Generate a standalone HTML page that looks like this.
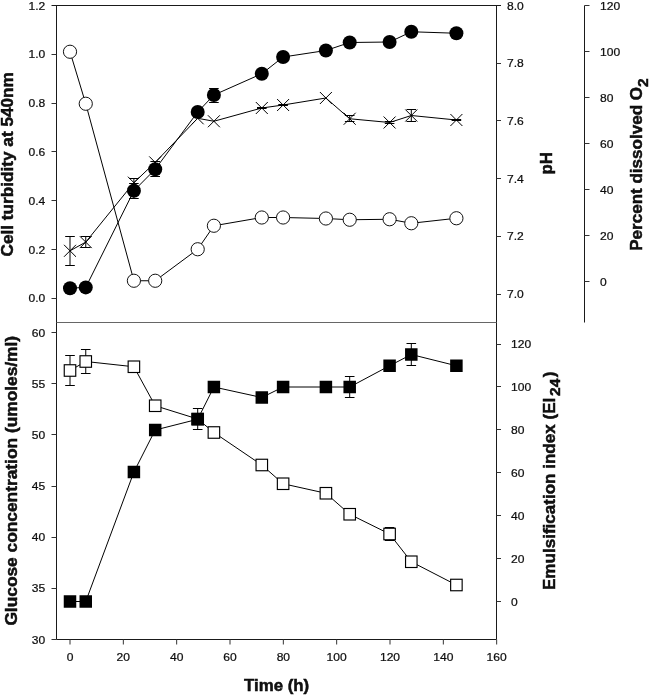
<!DOCTYPE html>
<html><head><meta charset="utf-8"><title>Figure</title>
<style>html,body{margin:0;padding:0;background:#fff}svg{display:block}text{font-family:"Liberation Sans",Arial,sans-serif;fill:#111}.t{font-size:11.6px;fill:#000;stroke:#000;stroke-width:.22px}.b{font-size:16.4px;font-weight:bold;fill:#000;stroke:#000;stroke-width:.45px}</style></head><body>
<svg width="649" height="696" viewBox="0 0 649 696">
<rect width="649" height="696" fill="#fff"/>
<g stroke="#1a1a1a" stroke-width="1" fill="none">
<path d="M51.5 5.5H501.0"/>
<path d="M56.5 5.5V639.5H496.5V5.5"/>
<path d="M584.5 5.5V322.5"/>
</g>
<path d="M56.5 322.5H496.5" stroke="#666" stroke-width="1"/>
<path d="M51.5 54.5H56.5M51.5 103.5H56.5M51.5 151.5H56.5M51.5 200.5H56.5M51.5 249.5H56.5M51.5 298.5H56.5M51.5 332.5H56.5M51.5 383.5H56.5M51.5 434.5H56.5M51.5 486.5H56.5M51.5 537.5H56.5M51.5 588.5H56.5M51.5 639.5H56.5M496.5 63.5h4.5M496.5 120.5h4.5M496.5 178.5h4.5M496.5 236.5h4.5M496.5 294.5h4.5M496.5 344.5h4.5M496.5 386.5h4.5M496.5 429.5h4.5M496.5 472.5h4.5M496.5 515.5h4.5M496.5 558.5h4.5M496.5 601.5h4.5M584.5 5.5h5M584.5 51.5h5M584.5 97.5h5M584.5 143.5h5M584.5 189.5h5M584.5 235.5h5M584.5 281.5h5M70.00 639.5v5M123.33 639.5v5M176.67 639.5v5M230.00 639.5v5M283.34 639.5v5M336.67 639.5v5M390.00 639.5v5M443.34 639.5v5M496.67 639.5v5" stroke="#333" stroke-width="1" fill="none"/>
<g class="t">
<text transform="translate(45.3 9.60) scale(1.04 1)" text-anchor="end">1.2</text>
<text transform="translate(45.3 58.40) scale(1.04 1)" text-anchor="end">1.0</text>
<text transform="translate(45.3 107.20) scale(1.04 1)" text-anchor="end">0.8</text>
<text transform="translate(45.3 156.00) scale(1.04 1)" text-anchor="end">0.6</text>
<text transform="translate(45.3 204.80) scale(1.04 1)" text-anchor="end">0.4</text>
<text transform="translate(45.3 253.60) scale(1.04 1)" text-anchor="end">0.2</text>
<text transform="translate(45.3 302.40) scale(1.04 1)" text-anchor="end">0.0</text>
<text transform="translate(45.3 336.80) scale(1.04 1)" text-anchor="end">60</text>
<text transform="translate(45.3 387.93) scale(1.04 1)" text-anchor="end">55</text>
<text transform="translate(45.3 439.06) scale(1.04 1)" text-anchor="end">50</text>
<text transform="translate(45.3 490.19) scale(1.04 1)" text-anchor="end">45</text>
<text transform="translate(45.3 541.32) scale(1.04 1)" text-anchor="end">40</text>
<text transform="translate(45.3 592.45) scale(1.04 1)" text-anchor="end">35</text>
<text transform="translate(45.3 643.58) scale(1.04 1)" text-anchor="end">30</text>
<text transform="translate(507 9.60) scale(1.04 1)">8.0</text>
<text transform="translate(507 67.30) scale(1.04 1)">7.8</text>
<text transform="translate(507 125.00) scale(1.04 1)">7.6</text>
<text transform="translate(507 182.70) scale(1.04 1)">7.4</text>
<text transform="translate(507 240.40) scale(1.04 1)">7.2</text>
<text transform="translate(507 298.10) scale(1.04 1)">7.0</text>
<text transform="translate(511 348.10) scale(1.04 1)">120</text>
<text transform="translate(511 391.00) scale(1.04 1)">100</text>
<text transform="translate(511 433.90) scale(1.04 1)">80</text>
<text transform="translate(511 476.80) scale(1.04 1)">60</text>
<text transform="translate(511 519.70) scale(1.04 1)">40</text>
<text transform="translate(511 562.60) scale(1.04 1)">20</text>
<text transform="translate(511 605.50) scale(1.04 1)">0</text>
<text transform="translate(600 9.60) scale(1.04 1)">120</text>
<text transform="translate(600 55.60) scale(1.04 1)">100</text>
<text transform="translate(600 101.60) scale(1.04 1)">80</text>
<text transform="translate(600 147.60) scale(1.04 1)">60</text>
<text transform="translate(600 193.60) scale(1.04 1)">40</text>
<text transform="translate(600 239.60) scale(1.04 1)">20</text>
<text transform="translate(600 285.60) scale(1.04 1)">0</text>
<text transform="translate(70.00 661.3) scale(1.04 1)" text-anchor="middle">0</text>
<text transform="translate(123.33 661.3) scale(1.04 1)" text-anchor="middle">20</text>
<text transform="translate(176.67 661.3) scale(1.04 1)" text-anchor="middle">40</text>
<text transform="translate(230.00 661.3) scale(1.04 1)" text-anchor="middle">60</text>
<text transform="translate(283.34 661.3) scale(1.04 1)" text-anchor="middle">80</text>
<text transform="translate(336.67 661.3) scale(1.04 1)" text-anchor="middle">100</text>
<text transform="translate(390.00 661.3) scale(1.04 1)" text-anchor="middle">120</text>
<text transform="translate(443.34 661.3) scale(1.04 1)" text-anchor="middle">140</text>
<text transform="translate(496.67 661.3) scale(1.04 1)" text-anchor="middle">160</text>
</g>
<g class="b">
<text transform="translate(12.7 256.5) rotate(-90) scale(1.049 1)">Cell turbidity at 540nm</text>
<text transform="translate(16.9 625.6) rotate(-90) scale(1.057 1)">Glucose concentration (umoles/ml)</text>
<text transform="translate(552.4 174.5) rotate(-90) scale(1.03 1)">pH</text>
<text transform="translate(641.7 250.8) rotate(-90) scale(1.04 1)">Percent dissolved O<tspan dy="5.8" font-size="15">2</tspan></text>
<text transform="translate(554.6 590) rotate(-90) scale(1.04 1)">Emulsification index (EI<tspan dx="1.8" dy="5.8" font-size="15">24</tspan><tspan dx="1.2" dy="-5.8">)</tspan></text>
<text transform="translate(276.6 690.8) scale(1.028 1)" text-anchor="middle">Time (h)</text>
</g>
<polyline points="70.00,51.75 85.75,103.75 133.90,280.75 155.20,280.75 197.70,249.25 213.90,225.75 261.80,217.50 283.10,217.50 325.90,218.50 349.70,219.75 389.60,219.25 411.30,223.25 456.40,218.25" stroke="#000" stroke-width="1" fill="none"/>
<polyline points="70.00,250.80 85.75,242.10 133.90,182.70 155.20,162.40 197.70,118.30 213.90,121.25 261.80,108.00 283.10,105.00 325.90,98.00 349.70,118.75 389.60,122.50 411.30,115.50 456.40,120.00" stroke="#000" stroke-width="1" fill="none"/>
<polyline points="70.00,288.20 85.75,287.40 133.90,190.75 155.20,169.25 197.70,112.00 213.90,95.00 261.80,73.75 283.10,57.00 325.90,50.50 349.70,42.50 389.60,42.00 411.30,31.75 456.40,33.25" stroke="#000" stroke-width="1" fill="none"/>
<path d="M70.00 236.5V265.5M65.20 236.5h9.6M65.20 265.5h9.6M85.75 236.5V247.5M80.95 236.5h9.6M80.95 247.5h9.6M133.90 178.5V187.5M129.10 178.5h9.6M129.10 187.5h9.6M411.30 109.5V121.5M406.50 109.5h9.6M406.50 121.5h9.6M349.70 115.5V121.5M344.90 115.5h9.6M344.90 121.5h9.6M389.60 121.5V123.5M384.80 121.5h9.6M384.80 123.5h9.6M456.40 119.5V120.5M451.60 119.5h9.6M451.60 120.5h9.6M261.80 107.5V108.5M257.00 107.5h9.6M257.00 108.5h9.6M283.10 104.5V105.5M278.30 104.5h9.6M278.30 105.5h9.6M213.90 88.5V102.5M209.10 88.5h9.6M209.10 102.5h9.6M133.90 183.5V198.5M129.10 183.5h9.6M129.10 198.5h9.6M155.20 161.5V176.5M150.40 161.5h9.6M150.40 176.5h9.6" stroke="#000" stroke-width="1" fill="none"/>
<circle cx="70.00" cy="51.75" r="6.6" fill="#fff" stroke="#111" stroke-width="1"/>
<circle cx="85.75" cy="103.75" r="6.6" fill="#fff" stroke="#111" stroke-width="1"/>
<circle cx="133.90" cy="280.75" r="6.6" fill="#fff" stroke="#111" stroke-width="1"/>
<circle cx="155.20" cy="280.75" r="6.6" fill="#fff" stroke="#111" stroke-width="1"/>
<circle cx="197.70" cy="249.25" r="6.6" fill="#fff" stroke="#111" stroke-width="1"/>
<circle cx="213.90" cy="225.75" r="6.6" fill="#fff" stroke="#111" stroke-width="1"/>
<circle cx="261.80" cy="217.50" r="6.6" fill="#fff" stroke="#111" stroke-width="1"/>
<circle cx="283.10" cy="217.50" r="6.6" fill="#fff" stroke="#111" stroke-width="1"/>
<circle cx="325.90" cy="218.50" r="6.6" fill="#fff" stroke="#111" stroke-width="1"/>
<circle cx="349.70" cy="219.75" r="6.6" fill="#fff" stroke="#111" stroke-width="1"/>
<circle cx="389.60" cy="219.25" r="6.6" fill="#fff" stroke="#111" stroke-width="1"/>
<circle cx="411.30" cy="223.25" r="6.6" fill="#fff" stroke="#111" stroke-width="1"/>
<circle cx="456.40" cy="218.25" r="6.6" fill="#fff" stroke="#111" stroke-width="1"/>
<path d="M64.00 244.80l12 12M64.00 256.80l12 -12M79.75 236.10l12 12M79.75 248.10l12 -12M127.90 176.70l12 12M127.90 188.70l12 -12M149.20 156.40l12 12M149.20 168.40l12 -12M191.70 112.30l12 12M191.70 124.30l12 -12M207.90 115.25l12 12M207.90 127.25l12 -12M255.80 102.00l12 12M255.80 114.00l12 -12M277.10 99.00l12 12M277.10 111.00l12 -12M319.90 92.00l12 12M319.90 104.00l12 -12M343.70 112.75l12 12M343.70 124.75l12 -12M383.60 116.50l12 12M383.60 128.50l12 -12M405.30 109.50l12 12M405.30 121.50l12 -12M450.40 114.00l12 12M450.40 126.00l12 -12" stroke="#000" stroke-width="1" fill="none"/>
<circle cx="70.00" cy="288.20" r="7" fill="#000"/>
<circle cx="85.75" cy="287.40" r="7" fill="#000"/>
<circle cx="133.90" cy="190.75" r="7" fill="#000"/>
<circle cx="155.20" cy="169.25" r="7" fill="#000"/>
<circle cx="197.70" cy="112.00" r="7" fill="#000"/>
<circle cx="213.90" cy="95.00" r="7" fill="#000"/>
<circle cx="261.80" cy="73.75" r="7" fill="#000"/>
<circle cx="283.10" cy="57.00" r="7" fill="#000"/>
<circle cx="325.90" cy="50.50" r="7" fill="#000"/>
<circle cx="349.70" cy="42.50" r="7" fill="#000"/>
<circle cx="389.60" cy="42.00" r="7" fill="#000"/>
<circle cx="411.30" cy="31.75" r="7" fill="#000"/>
<circle cx="456.40" cy="33.25" r="7" fill="#000"/>
<polyline points="70.00,370.50 85.75,361.50 133.90,366.75 155.20,405.75 197.70,419.00 213.90,432.50 261.80,465.00 283.10,483.75 325.90,493.25 349.70,514.25 389.60,534.00 411.30,561.75 456.40,585.00" stroke="#000" stroke-width="1" fill="none"/>
<polyline points="70.00,601.50 85.75,601.50 133.90,472.00 155.20,430.00 197.70,419.25 213.90,387.00 261.80,397.50 283.10,387.00 325.90,387.00 349.70,387.00 389.60,365.75 411.30,354.50 456.40,365.75" stroke="#000" stroke-width="1" fill="none"/>
<path d="M70.00 355.5V385.5M65.20 355.5h9.6M65.20 385.5h9.6M85.75 349.5V373.5M80.95 349.5h9.6M80.95 373.5h9.6M197.70 408.5V429.5M192.90 408.5h9.6M192.90 429.5h9.6M349.70 376.5V397.5M344.90 376.5h9.6M344.90 397.5h9.6M411.30 343.5V365.5M406.50 343.5h9.6M406.50 365.5h9.6M389.60 527.5V540.5M384.80 527.5h9.6M384.80 540.5h9.6" stroke="#000" stroke-width="1" fill="none"/>
<rect x="64.25" y="364.75" width="11.5" height="11.5" fill="#fff" stroke="#000" stroke-width="1.15"/>
<rect x="80.00" y="355.75" width="11.5" height="11.5" fill="#fff" stroke="#000" stroke-width="1.15"/>
<rect x="128.15" y="361.00" width="11.5" height="11.5" fill="#fff" stroke="#000" stroke-width="1.15"/>
<rect x="149.45" y="400.00" width="11.5" height="11.5" fill="#fff" stroke="#000" stroke-width="1.15"/>
<rect x="191.95" y="413.25" width="11.5" height="11.5" fill="#fff" stroke="#000" stroke-width="1.15"/>
<rect x="208.15" y="426.75" width="11.5" height="11.5" fill="#fff" stroke="#000" stroke-width="1.15"/>
<rect x="256.05" y="459.25" width="11.5" height="11.5" fill="#fff" stroke="#000" stroke-width="1.15"/>
<rect x="277.35" y="478.00" width="11.5" height="11.5" fill="#fff" stroke="#000" stroke-width="1.15"/>
<rect x="320.15" y="487.50" width="11.5" height="11.5" fill="#fff" stroke="#000" stroke-width="1.15"/>
<rect x="343.95" y="508.50" width="11.5" height="11.5" fill="#fff" stroke="#000" stroke-width="1.15"/>
<rect x="383.85" y="528.25" width="11.5" height="11.5" fill="#fff" stroke="#000" stroke-width="1.15"/>
<rect x="405.55" y="556.00" width="11.5" height="11.5" fill="#fff" stroke="#000" stroke-width="1.15"/>
<rect x="450.65" y="579.25" width="11.5" height="11.5" fill="#fff" stroke="#000" stroke-width="1.15"/>
<rect x="63.75" y="595.25" width="12.5" height="12.5" fill="#000"/>
<rect x="79.50" y="595.25" width="12.5" height="12.5" fill="#000"/>
<rect x="127.65" y="465.75" width="12.5" height="12.5" fill="#000"/>
<rect x="148.95" y="423.75" width="12.5" height="12.5" fill="#000"/>
<rect x="191.45" y="413.00" width="12.5" height="12.5" fill="#000"/>
<rect x="207.65" y="380.75" width="12.5" height="12.5" fill="#000"/>
<rect x="255.55" y="391.25" width="12.5" height="12.5" fill="#000"/>
<rect x="276.85" y="380.75" width="12.5" height="12.5" fill="#000"/>
<rect x="319.65" y="380.75" width="12.5" height="12.5" fill="#000"/>
<rect x="343.45" y="380.75" width="12.5" height="12.5" fill="#000"/>
<rect x="383.35" y="359.50" width="12.5" height="12.5" fill="#000"/>
<rect x="405.05" y="348.25" width="12.5" height="12.5" fill="#000"/>
<rect x="450.15" y="359.50" width="12.5" height="12.5" fill="#000"/>
</svg></body></html>
